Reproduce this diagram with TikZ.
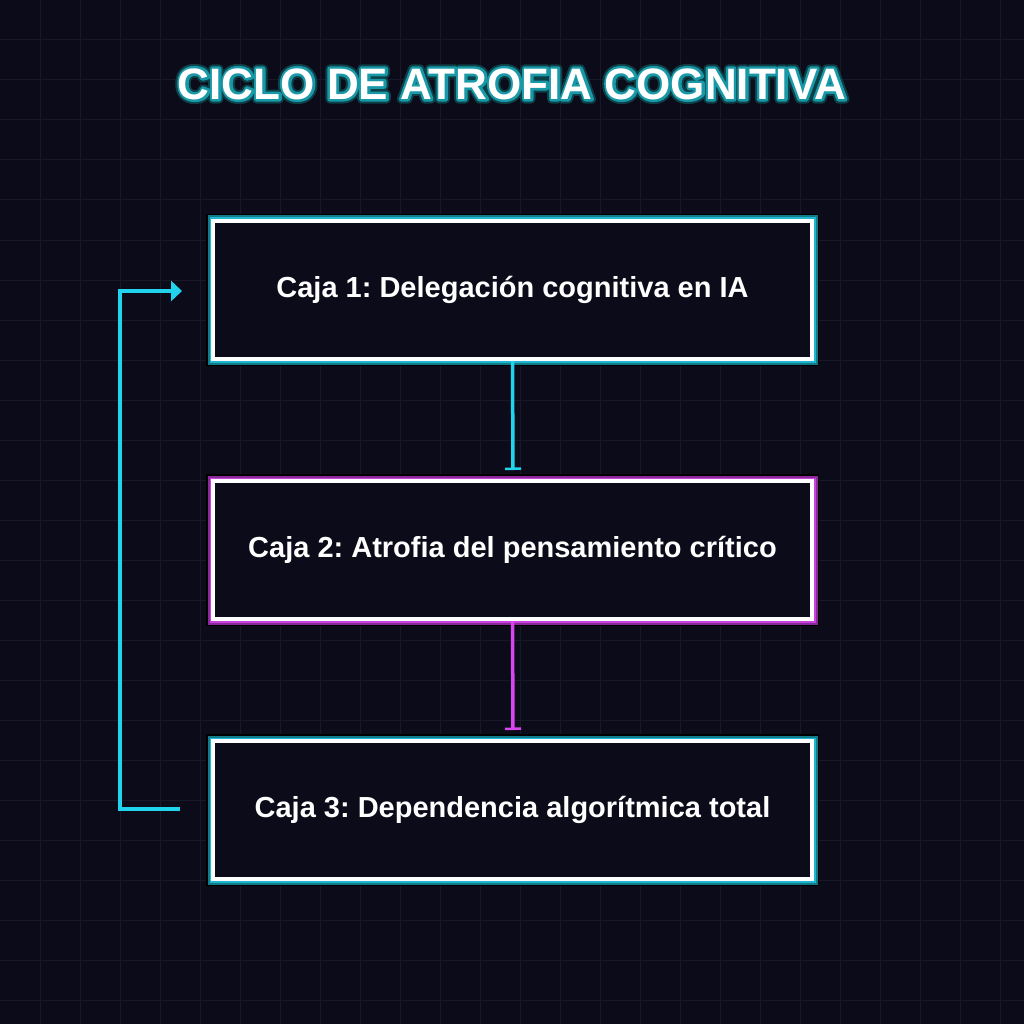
\documentclass[tikz,border=0pt]{standalone}
\usepackage{fontspec}
\setmainfont{Liberation Sans}
\usetikzlibrary{arrows.meta}
\frenchspacing
\definecolor{bg}{HTML}{0B0B19}
\definecolor{gridc}{HTML}{181828}
\definecolor{cyanc}{HTML}{22D3EE}
\definecolor{tealg}{HTML}{127A88}
\definecolor{magc}{HTML}{D946EF}
\definecolor{magg}{HTML}{8A2A9A}
\tikzset{
  boxw/.style={draw=white,line width=4pt,minimum width=599pt,minimum height=138pt,font=\bfseries\fontsize{29}{33}\selectfont,text=white,inner sep=0pt},
  titlef/.style={font=\bfseries\fontsize{44}{50}\selectfont},
  conn/.style={line width=3.5pt}
}
\begin{document}
\begin{tikzpicture}[x=1pt,y=1pt]
\fill[bg] (0,0) rectangle (1024,-1024);
\useasboundingbox (0,0) rectangle (1024,-1024);
\foreach \i in {40,80,...,1000}{
  \draw[gridc,line width=1pt] (\i,0) -- (\i,-1024);
  \draw[gridc,line width=1pt] (0,-\i) -- (1024,-\i);
}
% glows
\draw[black,line width=13pt] (212.5,-220.5) rectangle (812.5,-359.5);
\draw[tealg,line width=10pt] (212.5,-220.5) rectangle (812.5,-359.5);
\draw[cyanc!70!tealg,line width=6pt] (212.5,-220.5) rectangle (812.5,-359.5);
\draw[black,line width=13pt] (212.5,-480.5) rectangle (812.5,-619.5);
\draw[magg,line width=10pt] (212.5,-480.5) rectangle (812.5,-619.5);
\draw[magc!80!magg,line width=6pt] (212.5,-480.5) rectangle (812.5,-619.5);
\draw[black,line width=13pt] (212.5,-740.5) rectangle (812.5,-879.5);
\draw[tealg,line width=10pt] (212.5,-740.5) rectangle (812.5,-879.5);
\draw[cyanc!70!tealg,line width=6pt] (212.5,-740.5) rectangle (812.5,-879.5);
\fill[bg] (214.5,-222.5) rectangle (810.5,-357.5);
\fill[bg] (214.5,-482.5) rectangle (810.5,-617.5);
\fill[bg] (214.5,-742.5) rectangle (810.5,-877.5);
\node[boxw] (b1) at (512.5,-290) {Caja 1: Delegación cognitiva en IA};
\node[boxw] (b2) at (512.5,-550) {Caja 2: Atrofia del pensamiento crítico};
\node[boxw] (b3) at (512.5,-810) {Caja 3: Dependencia algorítmica total};
\coordinate (t2) at (513,-470);
\coordinate (t3) at (513,-730);
\coordinate (l1) at (180,-809);
\coordinate (l2) at (182,-291);
\draw[cyanc,conn,-{Bar[width=16pt,line width=2.5pt]}] (b1.south) -- (t2);
\draw[magc,conn,-{Bar[width=16pt,line width=2.5pt]}] (b2.south) -- (t3);
\draw[cyanc,conn,-{Triangle[width=20pt,length=11pt]}] (l1) -- (120,-809) -- (120,-291) -- (l2);
\node[titlef] (tglow) at (512,-84) {\special{pdf:literal 1 Tr 1 j 0.05 0.25 0.28 RG 9 w}CICLO DE ATROFIA COGNITIVA\special{pdf:literal 0 Tr}};
\node[titlef] (tline) at (512,-84) {\special{pdf:literal 1 Tr 1 j 0.1 0.6 0.66 RG 5 w}CICLO DE ATROFIA COGNITIVA\special{pdf:literal 0 Tr}};
\node[titlef,text=white] (title) at (512,-84) {CICLO DE ATROFIA COGNITIVA};
\end{tikzpicture}
\end{document}
